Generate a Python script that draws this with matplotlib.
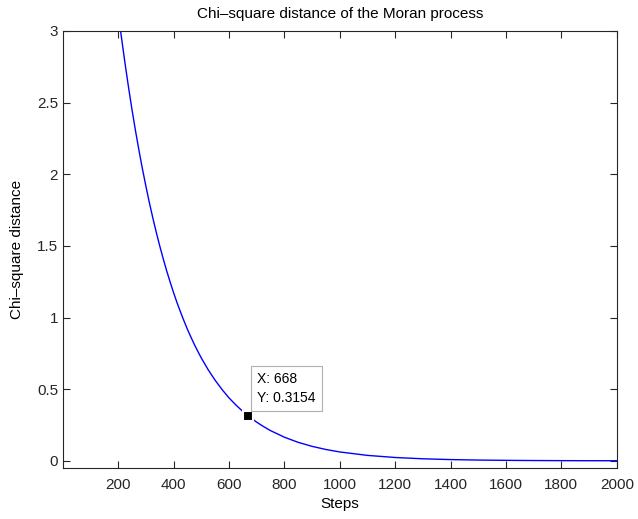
import matplotlib

matplotlib.use("Agg")
import matplotlib.pyplot as plt

plt.rcParams["font.family"] = ["Liberation Sans", "DejaVu Sans"]

# values
steps = [200, 210, 225, 237.5, 250, 262.5, 275, 287.5, 300, 312.5, 325, 337.5,
         350, 362.5, 375, 387.5, 400, 412.5, 425, 437.5, 450, 462.5, 475,
         487.5, 500, 525, 550, 575, 600, 625, 650, 668, 700, 725, 750, 800,
         850, 900, 950, 1000, 1100, 1200, 1300, 1400, 1500, 1600, 1700, 1800,
         1900, 2000]
chi2 = [3.136, 2.985, 2.774, 2.609, 2.453, 2.307, 2.170, 2.041, 1.920, 1.805,
        1.698, 1.597, 1.502, 1.413, 1.328, 1.250, 1.175, 1.105, 1.040, 0.978,
        0.919, 0.865, 0.813, 0.765, 0.719, 0.636, 0.563, 0.498, 0.440, 0.390,
        0.345, 0.3154, 0.270, 0.239, 0.211, 0.165, 0.129, 0.101, 0.0791,
        0.0619, 0.0379, 0.0232, 0.0142, 0.0087, 0.0053, 0.0033, 0.0020,
        0.0012, 0.0007, 0.0005]
tip_x, tip_y = 668, 0.3154
x_ticks = [200, 400, 600, 800, 1000, 1200, 1400, 1600, 1800, 2000]
y_ticks = [0, 0.5, 1, 1.5, 2, 2.5, 3]

FS = 11

fig = plt.figure(figsize=(6.38, 5.19), dpi=100)
ax = fig.add_axes([0.0987, 0.0983, 0.868, 0.842])

ax.plot(steps, chi2, color="#0000ff", linewidth=1.0)
ax.plot([tip_x], [tip_y], marker="s", markersize=7, color="black",
        markeredgecolor="white", markeredgewidth=1.5, linestyle="none", zorder=5)
ax.annotate(f"X: {tip_x}\nY: {tip_y}", xy=(tip_x, tip_y), xytext=(7, 8),
            textcoords="offset points", ha="left", va="bottom", fontsize=10,
            linespacing=1.4,
            bbox=dict(boxstyle="square,pad=0.45", facecolor="white",
                      edgecolor="#b0b0b0", linewidth=0.8), zorder=6)

ax.set_xlim(1, 2000)
ax.set_ylim(-0.05, 3)
ax.set_xticks(x_ticks)
ax.set_yticks(y_ticks)
ax.set_yticklabels(["0", "0.5", "1", "1.5", "2", "2.5", "3"])
ax.tick_params(direction="in", top=True, right=True, length=5, width=0.8,
               labelsize=FS, colors="#262626")
ax.tick_params(axis="x", pad=7)
for sp in ax.spines.values():
    sp.set_color("#262626")
    sp.set_linewidth(0.8)

ax.set_xlabel("Steps", fontsize=FS, labelpad=4)
ax.set_ylabel("Chi\u2013square distance", fontsize=FS, labelpad=9)
ax.set_title("Chi\u2013square distance of the Moran process", fontsize=FS, pad=9)

fig.savefig("out.png", dpi=100)
plt.close(fig)
